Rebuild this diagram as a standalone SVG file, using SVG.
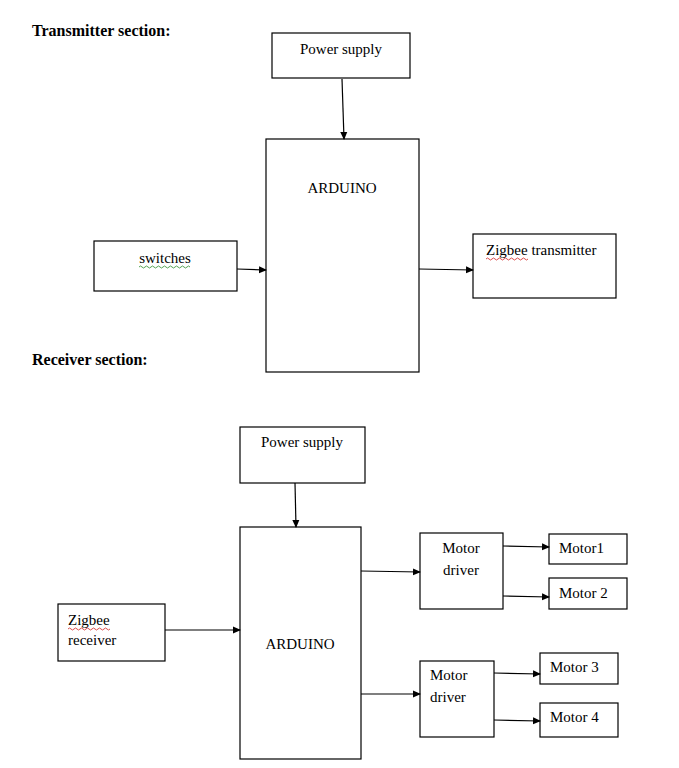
<svg xmlns="http://www.w3.org/2000/svg" width="679" height="768" viewBox="0 0 679 768">
<style>
rect{fill:#fff;stroke:#000;stroke-width:1.2}
text{font-family:"Liberation Serif",serif;font-size:15px;fill:#000}
.h{font-weight:bold;font-size:16px}
.c{text-anchor:middle}
.cn line{stroke:#000;stroke-width:1.2;marker-end:url(#a)}
.w{fill:none;stroke-width:0.8}
</style>
<defs><marker id="a" markerWidth="8" markerHeight="8" refX="7" refY="4" orient="auto" markerUnits="userSpaceOnUse"><path d="M0,0.5 L8,4 L0,7.5z" fill="#000"/></marker></defs>
<text class="h" x="32" y="36">Transmitter section:</text>
<text class="h" x="32" y="365">Receiver section:</text>
<g id="ps1"><rect x="272" y="33" width="138" height="45"/><text class="c" x="341" y="54">Power supply</text></g>
<g id="ard1"><rect x="266" y="139" width="153" height="233"/><text class="c" x="342" y="193">ARDUINO</text></g>
<g id="sw"><rect x="94" y="241" width="143" height="50"/><text class="c" x="165" y="263">switches</text><path class="w" stroke="#2a8a2a" d="M139,267 q1.5,-2 3,0 t3,0 t3,0 t3,0 t3,0 t3,0 t3,0 t3,0 t3,0 t3,0 t3,0 t3,0 t3,0 t3,0 t3,0 t3,0 t3,0"/></g>
<g id="zt"><rect x="473" y="234" width="143" height="64"/><text x="486" y="255">Zigbee transmitter</text><path class="w" stroke="#d02020" d="M486,259 q1.5,-2 3,0 t3,0 t3,0 t3,0 t3,0 t3,0 t3,0 t3,0 t3,0 t3,0 t3,0 t3,0 t3,0 t3,0"/></g>
<g id="ps2"><rect x="240" y="427" width="125" height="56"/><text class="c" x="302" y="447">Power supply</text></g>
<g id="ard2"><rect x="240" y="527" width="121" height="232"/><text class="c" x="300" y="649">ARDUINO</text></g>
<g id="zr"><rect x="58" y="604" width="107" height="57"/><text x="68" y="625">Zigbee</text><path class="w" stroke="#d02020" d="M68,629 q1.5,-2 3,0 t3,0 t3,0 t3,0 t3,0 t3,0 t3,0 t3,0 t3,0 t3,0 t3,0 t3,0 t3,0 t3,0"/><text x="68" y="645">receiver</text></g>
<g id="md1"><rect x="420" y="533" width="83" height="76"/><text class="c" x="461" y="553">Motor</text><text class="c" x="461" y="575">driver</text></g>
<g id="m1"><rect x="549" y="534" width="78" height="30"/><text x="559" y="553">Motor1</text></g>
<g id="m2"><rect x="549" y="578" width="78" height="31"/><text x="559" y="598">Motor 2</text></g>
<g id="md2"><rect x="420" y="661" width="74" height="76"/><text x="430" y="680">Motor</text><text x="430" y="702">driver</text></g>
<g id="m3"><rect x="540" y="653" width="78" height="31"/><text x="550" y="672">Motor 3</text></g>
<g id="m4"><rect x="540" y="703" width="78" height="34"/><text x="550" y="722">Motor 4</text></g>
<g class="cn">
<line x1="342" y1="79" x2="344" y2="139"/>
<line x1="237" y1="269" x2="266" y2="270"/>
<line x1="419" y1="269" x2="473" y2="270"/>
<line x1="295" y1="483" x2="296" y2="527"/>
<line x1="165" y1="630" x2="240" y2="630"/>
<line x1="361" y1="571" x2="420" y2="572"/>
<line x1="361" y1="694" x2="420" y2="694"/>
<line x1="503" y1="546" x2="549" y2="547"/>
<line x1="503" y1="596" x2="549" y2="597"/>
<line x1="494" y1="673" x2="540" y2="674"/>
<line x1="494" y1="720" x2="540" y2="721"/>
</g>
</svg>
